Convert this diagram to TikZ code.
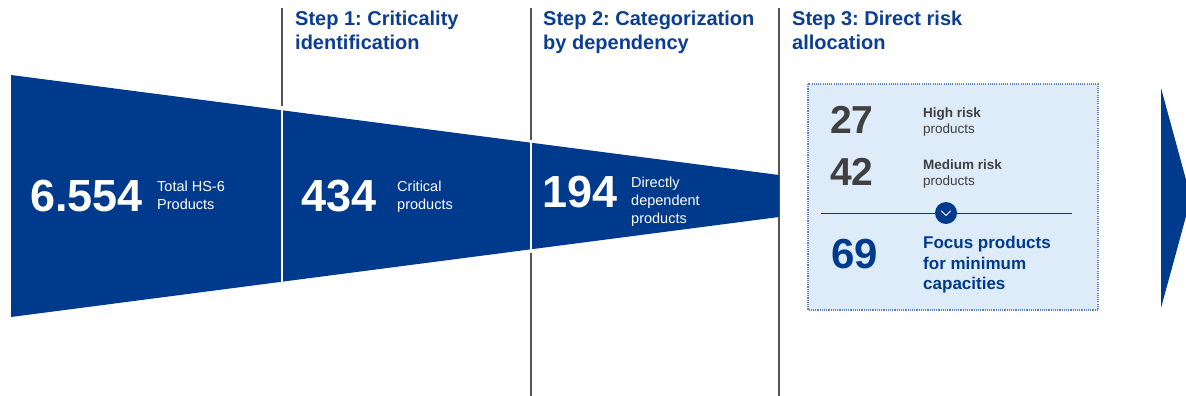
\documentclass[tikz,border=0pt]{standalone}
\usepackage{fontspec}
\setmainfont{Liberation Sans}
\frenchspacing
\begin{document}
\definecolor{funnelblue}{HTML}{003A8C}
\definecolor{titleblue}{HTML}{0B3D91}
\definecolor{boxfill}{HTML}{DEEBF8}
\definecolor{boxedge}{HTML}{5B84C4}
\definecolor{darktext}{HTML}{404040}
\definecolor{rulegray}{HTML}{555555}
\begin{tikzpicture}[x=1pt,y=-1pt,
  steptitle/.style={anchor=north west,inner sep=0pt,align=left,text=titleblue,
    font=\fontsize{20}{24}\selectfont\bfseries},
  bignum/.style={anchor=north west,inner sep=0pt,text=white,
    font=\fontsize{45}{45}\selectfont\bfseries},
  numlabel/.style={anchor=north west,inner sep=0pt,align=left,text=white,
    font=\fontsize{14.5}{18}\selectfont},
  risknum/.style={anchor=north west,inner sep=0pt,text=darktext,
    font=\fontsize{39}{39}\selectfont\bfseries},
  risklabel/.style={anchor=north west,inner sep=0pt,align=left,text=darktext,
    font=\fontsize{13.5}{16}\selectfont},
  divider/.style={rulegray,line width=1.2pt},
  gap/.style={white,line width=1.5pt}]
\useasboundingbox (0,0) rectangle (1186,396);

% column dividers
\coordinate (d1t) at (282,8);   \coordinate (d1b) at (282,106);
\coordinate (d2t) at (531,8);   \coordinate (d2b) at (531,396);
\coordinate (d3t) at (779,8);   \coordinate (d3b) at (779,396);
\draw[divider] (d1t) -- (d1b);
\draw[divider] (d2t) -- (d2b);
\draw[divider] (d3t) -- (d3b);

% funnel
\fill[funnelblue] (11,75) -- (779,175) -- (779,217) -- (11,317) -- cycle;
\coordinate (g1t) at (282,108); \coordinate (g1b) at (282,284);
\coordinate (g2t) at (531,140); \coordinate (g2b) at (531,253);
\draw[gap] (g1t) -- (g1b);
\draw[gap] (g2t) -- (g2b);

% continuation arrow at the right
\fill[funnelblue] (1161,88) -- (1191,198) -- (1161,308) -- cycle;

% step titles
\node[steptitle] (s1) at (295,11) {Step 1: Criticality\\identification};
\node[steptitle] (s2) at (543,11) {Step 2: Categorization\\by dependency};
\node[steptitle] (s3) at (792,11) {Step 3: Direct risk\\allocation};

% funnel figures
\node[bignum] (n1) at (30,180) {6.554};
\node[numlabel] (l1) at (157,181) {Total HS-6\\Products};
\node[bignum] (n2) at (301,180) {434};
\node[numlabel] (l2) at (397,181) {Critical\\products};
\node[bignum] (n3) at (542,176) {194};
\node[numlabel] (l3) at (631,177) {Directly\\dependent\\products};

% risk allocation box
\filldraw[fill=boxfill,draw=boxedge,line width=1.1pt,dash pattern=on 1.1pt off 1.1pt]
  (808,84) rectangle (1098,310);
\node[risknum] (r1) at (830,106) {27};
\node[risklabel] (rl1) at (923,108) {\textbf{High risk}\\products};
\node[risknum] (r2) at (830,158) {42};
\node[risklabel] (rl2) at (923,160) {\textbf{Medium risk}\\products};

\coordinate (hl) at (821,213);
\coordinate (hr) at (1072,213);
\draw[funnelblue,line width=1pt] (hl) -- (hr);
\node[circle,fill=funnelblue,minimum size=22pt,inner sep=0pt] (chev) at (946,213) {};
\draw[white,line width=0.8pt,line cap=round,line join=round]
  ([shift={(-4.5,-2)}]chev.center) -- ([shift={(0,2.5)}]chev.center) -- ([shift={(4.5,-2)}]chev.center);

\node[anchor=north west,inner sep=0pt,text=funnelblue,
  font=\fontsize{42}{42}\selectfont\bfseries] (r3) at (831,239) {69};
\node[anchor=north west,inner sep=0pt,align=left,text=funnelblue,
  font=\fontsize{17}{20.5}\selectfont\bfseries] (rl3) at (923,236)
  {Focus products\\for minimum\\capacities};
\end{tikzpicture}
\end{document}
